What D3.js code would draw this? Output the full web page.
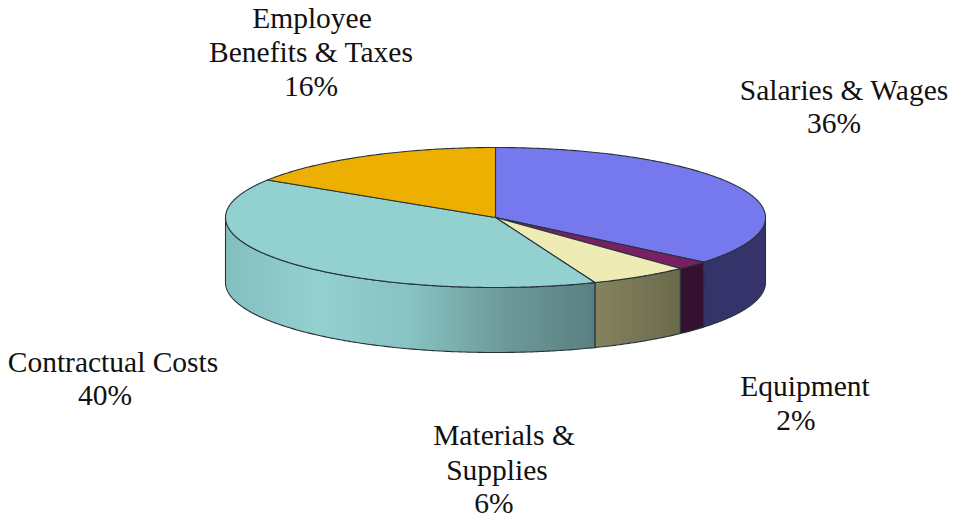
<!DOCTYPE html>
<html>
<head>
<meta charset="utf-8">
<script src="https://cdn.jsdelivr.net/npm/d3@7"></script>
<style>
html, body { margin: 0; padding: 0; background: #fff; }
svg { display: block; }
text { font-family: "Liberation Serif", "Times New Roman", serif; font-size: 29.5px; fill: #111; }
</style>
</head>
<body>
<svg id="chart" width="953" height="521"></svg>
<script>
// Budget shares, clockwise from twelve o'clock
const categories = ["Salaries & Wages", "Equipment", "Materials & Supplies", "Contractual Costs", "Employee Benefits & Taxes"];
const shares = [36, 2, 6, 40, 16];
const topColors = ["#7678ee", "#7b1f63", "#eeecb4", "#93d0d0", "#eeb000"];
const wallStops = [
  ["#35336a", "#35336a"],
  ["#36102f", "#36102f"],
  ["#85835f", "#6a6a4c"],
  ["#84bfbf", "#93d0d0", "#88c2c2", "#6e9a9b", "#5a7f80"],
  ["#eeb000", "#eeb000"]
];
const labelLines = [
  ["Salaries & Wages", "36%"],
  ["Equipment", "2%"],
  ["Materials &", "Supplies", "6%"],
  ["Contractual Costs", "40%"],
  ["Employee", "Benefits & Taxes", "16%"]
];

// Label placement: one [centre x, baseline y] per text line
const labelSpots = [
  [[844, 100], [834, 133]],
  [[805, 396], [796, 430]],
  [[504, 445], [497, 480], [494, 513]],
  [[113, 372], [105, 405]],
  [[312, 28], [311, 62], [311, 96]]
];

const cx = 495.5, cy = 217.5, rx = 270, ry = 70, depth = 65;
const outline = "#26343a";

const svg = d3.select("#chart");
const defs = svg.append("defs");

const arcs = d3.pie().value(d => d).sort(null)(shares);

// Tilted-disc projection of an angle measured clockwise from the top
const px = d3.scaleLinear().domain([-1, 1]).range([cx - rx, cx + rx]);
const py = d3.scaleLinear().domain([-1, 1]).range([cy - ry, cy + ry]);
const rim = (a, drop = 0) => [px(Math.sin(a)), py(-Math.cos(a)) + drop];
const sweep = (a0, a1, drop = 0) => {
  const n = Math.max(2, Math.ceil(Math.abs(a1 - a0) / 0.01));
  return d3.range(n + 1).map(i => rim(a0 + (a1 - a0) * i / n, drop));
};
const line = d3.line();

// Outer wall: only the part of each slice facing the viewer
const frontStart = Math.PI / 2, frontEnd = Math.PI * 1.5;
const walls = svg.append("g");
arcs.forEach((d, i) => {
  const a0 = Math.max(d.startAngle, frontStart);
  const a1 = Math.min(d.endAngle, frontEnd);
  if (a1 <= a0) return;
  const x0 = rim(a0)[0], x1 = rim(a1)[0];
  const id = "wall-" + i;
  const grad = defs.append("linearGradient").attr("id", id)
    .attr("gradientUnits", "userSpaceOnUse")
    .attr("x1", x1).attr("x2", x0).attr("y1", 0).attr("y2", 0);
  const stops = wallStops[i];
  stops.forEach((c, k) => grad.append("stop")
    .attr("offset", k / (stops.length - 1)).attr("stop-color", c));
  const pts = sweep(a0, a1).concat(sweep(a1, a0, depth));
  walls.append("path")
    .attr("d", line(pts) + "Z")
    .attr("fill", `url(#${id})`)
    .attr("stroke", outline)
    .attr("stroke-width", 1.1)
    .attr("stroke-linejoin", "round");
});

// Top face slices
const faces = svg.append("g");
arcs.forEach((d, i) => {
  const pts = [[cx, cy]].concat(sweep(d.startAngle, d.endAngle));
  faces.append("path")
    .attr("d", line(pts) + "Z")
    .attr("fill", topColors[i])
    .attr("stroke", outline)
    .attr("stroke-width", 1.1)
    .attr("stroke-linejoin", "round");
});

// Category labels with their percentage
const labels = svg.append("g");
labelLines.forEach((lines, i) => {
  lines.forEach((t, k) => {
    labels.append("text")
      .attr("x", labelSpots[i][k][0])
      .attr("y", labelSpots[i][k][1])
      .attr("text-anchor", "middle")
      .text(t);
  });
});
</script>
</body>
</html>
